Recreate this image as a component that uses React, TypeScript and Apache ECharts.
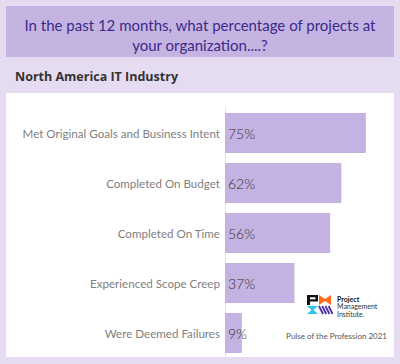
import React, { useEffect, useRef } from "react";
import * as echarts from "echarts";

const categories = [
  "Met Original Goals and Business Intent",
  "Completed On Budget",
  "Completed On Time",
  "Experienced Scope Creep",
  "Were Deemed Failures",
];
const values = [75, 62, 56, 37, 9];
const titleLines = ["In the past 12 months, what percentage of projects at", "your organization....?"];
const subtitle = "North America IT Industry";
const logoLines = ["Project", "Management", "Institute."];
const sourceText = "Pulse of the Profession 2021";

export default function App() {
  const ref = useRef<HTMLDivElement>(null);
  useEffect(() => {
    if (!ref.current) return;
    const chart = echarts.init(ref.current, undefined, { renderer: "svg" });
    const font = "Lato";
    const stripes = [0, 1, 2, 3].map((i) => ({
      type: "line",
      z: 10,
      shape: { x1: 319 + i * 3.2, y1: 306, x2: 323 + i * 3.2, y2: 314 },
      style: { stroke: "#4a2c9e", lineWidth: 1.8 },
    }));
    chart.setOption({
      animation: false,
      backgroundColor: "#e6dcf1",
      graphic: [
        { type: "rect", z: 0, shape: { x: 6, y: 6, width: 388, height: 51 }, style: { fill: "#c5b4e2" } },
        {
          type: "text", z: 1, x: 200, y: 25,
          style: { text: titleLines[0], fill: "#3a2a8a", font: `15px ${font}`, textAlign: "center", textVerticalAlign: "middle" },
        },
        {
          type: "text", z: 1, x: 200, y: 45,
          style: { text: titleLines[1], fill: "#3a2a8a", font: `15px ${font}`, textAlign: "center", textVerticalAlign: "middle" },
        },
        {
          type: "text", z: 1, x: 15, y: 76,
          style: { text: subtitle, fill: "#333333", font: `bold 12.5px "Open Sans"`, textAlign: "left", textVerticalAlign: "middle" },
        },
        { type: "rect", z: 0, shape: { x: 6, y: 93, width: 388, height: 264 }, style: { fill: "#ffffff" } },
        // PMI logo
        { type: "rect", z: 10, shape: { x: 307, y: 295, width: 3, height: 10 }, style: { fill: "#111111" } },
        { type: "rect", z: 10, shape: { x: 307, y: 295, width: 11, height: 6.5 }, style: { fill: "#111111" } },
        { type: "rect", z: 11, shape: { x: 310, y: 297.3, width: 5.5, height: 2 }, style: { fill: "#ffffff" } },
        {
          type: "polygon", z: 10,
          shape: { points: [[319, 295], [325, 299], [331, 295], [331, 305], [325, 301], [319, 305]] },
          style: { fill: "#ff6b1a" },
        },
        {
          type: "polygon", z: 10,
          shape: { points: [[307, 306], [318, 306], [313.5, 310], [318, 314], [307, 314], [311.5, 310]] },
          style: { fill: "#2fc3e8" },
        },
        ...stripes,
        {
          type: "text", z: 10, x: 337, y: 298.5,
          style: { text: logoLines[0], fill: "#111111", font: `bold 7px ${font}`, textVerticalAlign: "middle" },
        },
        {
          type: "text", z: 10, x: 337, y: 306,
          style: { text: logoLines[1], fill: "#333333", font: `7px ${font}`, textVerticalAlign: "middle" },
        },
        {
          type: "text", z: 10, x: 337, y: 313.5,
          style: { text: logoLines[2], fill: "#333333", font: `7px ${font}`, textVerticalAlign: "middle" },
        },
        {
          type: "text", z: 10, x: 387, y: 336,
          style: { text: sourceText, fill: "#555555", font: `8px ${font}`, textAlign: "right", textVerticalAlign: "middle" },
        },
      ],
      grid: { left: 225, right: 6, top: 108, height: 250, containLabel: false },
      xAxis: {
        type: "value", min: 0, max: 90, show: false,
      },
      yAxis: {
        type: "category", data: categories, inverse: true,
        axisLine: { show: true, lineStyle: { color: "#e2e2e2", width: 1 } },
        axisTick: { show: false },
        axisLabel: { color: "#808080", fontSize: 11.6, fontFamily: font, margin: 5 },
      },
      series: [
        {
          type: "bar", data: values, barWidth: 40, z: 3,
          itemStyle: { color: "#c4b2e2" },
          label: {
            show: true, position: "insideLeft", distance: 3,
            formatter: "{c}%", color: "#333333", fontSize: 14, fontFamily: font, fontWeight: 300,
          },
        },
      ],
    });
    return () => chart.dispose();
  }, []);
  return <div ref={ref} style={{ position: "fixed", left: 0, top: 0, width: 400, height: 364 }} />;
}
